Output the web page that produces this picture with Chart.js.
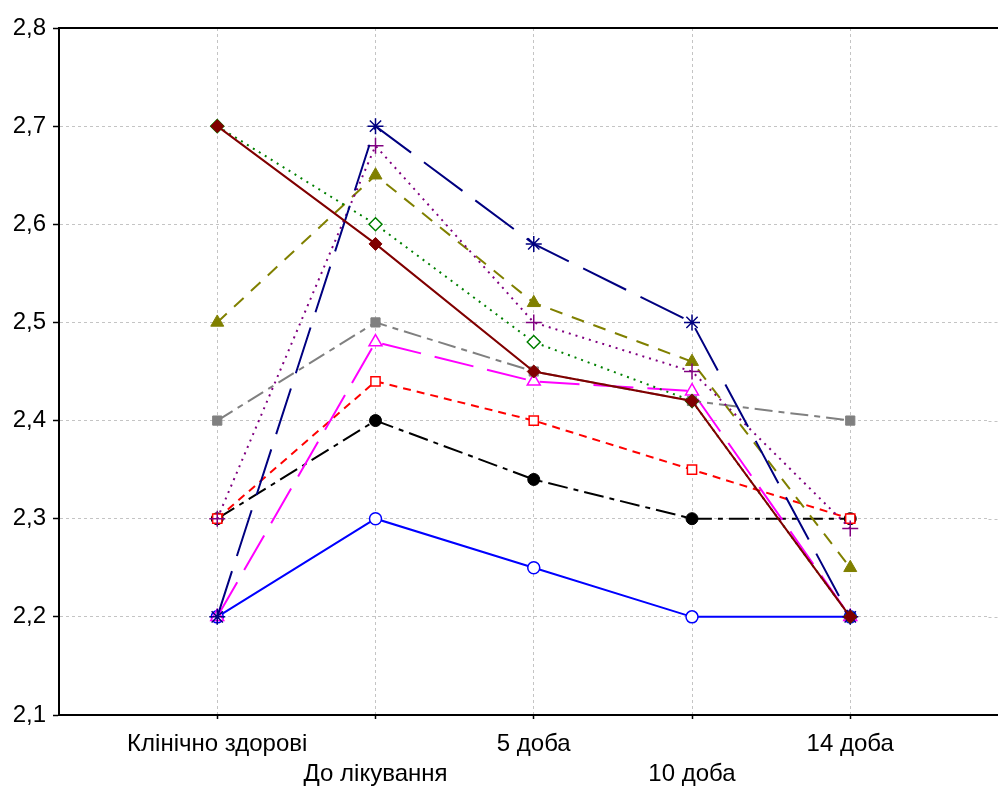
<!DOCTYPE html>
<html><head><meta charset="utf-8">
<script src="https://cdn.jsdelivr.net/npm/chart.js@4/dist/chart.umd.min.js"></script>
<style>html,body{margin:0;padding:0;background:#fff}#wrap{width:998px;height:787px}</style>
</head><body><div id="wrap"><canvas id="c" width="998" height="787"></canvas></div>
<script>
const categories = ['Клінічно здорові', 'До лікування', '5 доба', '10 доба', '14 доба'];
const yTicks = [2.1, 2.2, 2.3, 2.4, 2.5, 2.6, 2.7, 2.8];

const sDarkRed = [2.70, 2.58, 2.45, 2.42, 2.20];
const sNavy    = [2.20, 2.70, 2.58, 2.50, 2.20];
const sPurple  = [2.30, 2.68, 2.50, 2.45, 2.29];
const sGreen   = [2.70, 2.60, 2.48, 2.42, 2.20];
const sOlive   = [2.50, 2.65, 2.52, 2.46, 2.25];
const sGray    = [2.40, 2.50, 2.45, 2.42, 2.40];
const sMagenta = [2.20, 2.48, 2.44, 2.43, 2.20];
const sRed     = [2.30, 2.44, 2.40, 2.35, 2.30];
const sBlack   = [2.30, 2.40, 2.34, 2.30, 2.30];
const sBlue    = [2.20, 2.30, 2.25, 2.20, 2.20];

const toPts = arr => arr.map((v, i) => ({x: i + 1, y: v}));

function ds(data, color, dash, style, filled, radius) {
  return {
    data: toPts(data),
    borderColor: color,
    backgroundColor: filled ? color : '#ffffff',
    borderWidth: 2,
    borderDash: dash,
    pointStyle: style,
    pointRadius: radius,
    pointBorderWidth: filled ? 1 : 1.5,
    pointBorderColor: color,
    pointBackgroundColor: filled ? color : '#ffffff',
    tension: 0,
    fill: false
  };
}

const datasets = [
  ds(sDarkRed, '#800000', [], 'rectRot', true, 6.5),
  ds(sNavy, '#000080', [48, 16], 'star', false, 8),
  ds(sPurple, '#800080', [2, 5], 'cross', false, 8),
  ds(sGreen, '#008000', [2, 5], 'rectRot', false, 6.5),
  ds(sOlive, '#808000', [13, 10], 'triangle', true, 7.5),
  ds(sGray, '#808080', [18, 6, 6, 6], 'rect', true, 6.5),
  ds(sMagenta, '#ff00ff', [40, 14], 'triangle', false, 7.5),
  ds(sRed, '#ff0000', [8, 6], 'rect', false, 6.5),
  ds(sBlack, '#000000', [20, 6, 5, 6], 'circle', true, 6),
  ds(sBlue, '#0000ff', [], 'circle', false, 6)
];

// grid continuation past the chart area up to the canvas edge (the reference plot is cut at the right)
const gridExt = {
  id: 'gridExt',
  beforeDatasetsDraw(chart) {
    const {ctx, chartArea, scales} = chart;
    ctx.save();
    ctx.strokeStyle = '#c4c4c4';
    ctx.lineWidth = 1;
    ctx.setLineDash([3, 3]);
    ctx.beginPath();
    scales.y.ticks.forEach(t => {
      if (t.value <= scales.y.min || t.value >= scales.y.max) return;
      const y = Math.round(scales.y.getPixelForValue(t.value)) + 0.5;
      ctx.moveTo(chartArea.right, y);
      ctx.lineTo(chart.width, y);
    });
    ctx.stroke();
    ctx.restore();
  }
};

// frame: top line and the part of the bottom axis past the chart area
const frame = {
  id: 'frame',
  afterDraw(chart) {
    const {ctx, chartArea} = chart;
    ctx.save();
    ctx.strokeStyle = '#000';
    ctx.lineWidth = 2;
    ctx.beginPath();
    ctx.moveTo(chartArea.left, chartArea.top);
    ctx.lineTo(chart.width, chartArea.top);
    ctx.moveTo(chartArea.right - 1, chartArea.bottom);
    ctx.lineTo(chart.width, chartArea.bottom);
    ctx.stroke();
    ctx.restore();
  }
};

const font = {family: '"Liberation Sans", Arial, sans-serif', size: 24, lineHeight: 1.25};
const SPACING = 158.25; // px per category step in the reference

const chart = new Chart(document.getElementById('c'), {
  type: 'line',
  data: {datasets},
  options: {
    responsive: false,
    animation: false,
    layout: {padding: {top: 28, right: 0, left: 0, bottom: 0}},
    plugins: {legend: {display: false}, tooltip: {enabled: false}},
    scales: {
      x: {
        type: 'linear',
        min: 0,
        max: 939 / SPACING,
        afterBuildTicks: s => { s.ticks = categories.map((c, i) => ({value: i + 1})); },
        afterFit: s => { s.height = 72; },
        ticks: {
          font, color: '#000', padding: 10, autoSkip: false, maxRotation: 0,
          callback: (v) => {
            const i = Math.round(v) - 1;
            const lbl = categories[i] || '';
            return i % 2 === 0 ? [lbl, ''] : ['', lbl];
          }
        },
        grid: {color: '#c4c4c4', lineWidth: 1, tickColor: '#000', tickLength: 4, tickWidth: 1.5},
        border: {color: '#000', width: 2, dash: [3, 3]}
      },
      y: {
        min: 2.1,
        max: 2.8,
        afterBuildTicks: s => { s.ticks = yTicks.map(v => ({value: v})); },
        afterFit: s => { s.width = 59; },
        ticks: {
          font, color: '#000', padding: 7,
          callback: v => Number(v).toFixed(1).replace('.', ',')
        },
        grid: {color: '#c4c4c4', lineWidth: 1, tickColor: '#000', tickLength: 6, tickWidth: 1.5},
        border: {color: '#000', width: 2, dash: [3, 3]}
      }
    }
  },
  plugins: [gridExt, frame]
});
// match the reference's category spacing given the actual chart area width
for (let k = 0; k < 3; k++) {
  const ca = chart.chartArea;
  chart.options.scales.x.max = (ca.right - ca.left) / SPACING;
  chart.update('none');
}
</script>
</body></html>
